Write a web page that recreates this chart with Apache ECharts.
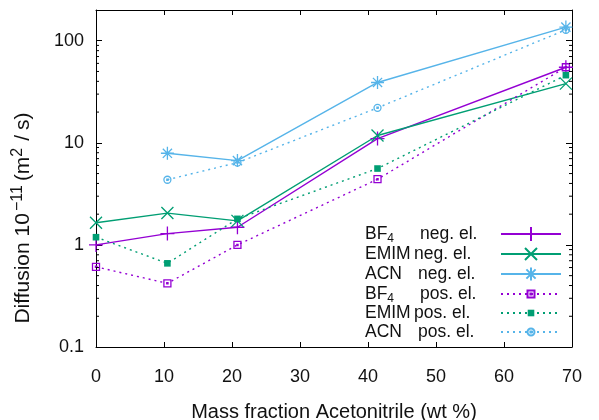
<!DOCTYPE html>
<html>
<head>
<meta charset="utf-8">
<script src="https://cdn.jsdelivr.net/npm/echarts@6/dist/echarts.min.js"></script>
<style>
  html, body { margin: 0; padding: 0; background: #fff; }
  #chart { width: 599px; height: 420px; }
</style>
</head>
<body>
<div id="chart"></div>
<script>
// Mass fraction of acetonitrile (wt %) for each sample
const massFraction = [0, 10.5, 20.8, 41.4, 69.1];

// Diffusion coefficients, 10^-11 m^2/s (null = not measured)
const bf4Neg  = [1.0, 1.29, 1.49, 11.0, 55];
const emimNeg = [1.65, 2.05, 1.72, 11.8, 38];
const acnNeg  = [null, 7.9, 6.7, 39, 136];
const bf4Pos  = [0.61, 0.42, 1.0, 4.4, 55];
const emimPos = [1.19, 0.66, 1.8, 5.6, 46];
const acnPos  = [null, 4.35, 6.4, 22, 128];

// Axis ticks
const xTicks = [0, 10, 20, 30, 40, 50, 60, 70];
const yMajorTicks = [0.1, 1, 10, 100];
const yMinorTicks = [0.2, 0.3, 0.4, 0.5, 0.6, 0.7, 0.8, 0.9,
                     2, 3, 4, 5, 6, 7, 8, 9,
                     20, 30, 40, 50, 60, 70, 80, 90];

const FONT = '"Liberation Sans", Arial, sans-serif';
const INK = '#111';
const C_BF4 = '#9400d3', C_EMIM = '#009e73', C_ACN = '#56b4e9';

// Symbols are drawn inside a 20x20 box (the two leading moves fix the box),
// so one symbolSize gives each glyph its own visible size.
const BOX = 'path://M0,0M20,20';
const SYM_PLUS  = BOX + 'M10,3V17M3,10H17';
const SYM_CROSS = BOX + 'M4,4L16,16M16,4L4,16';
const SYM_STAR  = BOX + 'M10,3.5V16.5M3.5,10H16.5M5.4,5.4L14.6,14.6M14.6,5.4L5.4,14.6';
const SYM_OBOX  = BOX + 'M6.5,6.5H13.5V13.5H6.5Z M9.4,9.4H10.6V10.6H9.4Z';
const SYM_FBOX  = BOX + 'M6.7,6.7H13.3V13.3H6.7Z';
const SYM_CIRC  = BOX + 'M6.5,10A3.5,3.5 0 1 1 13.5,10A3.5,3.5 0 1 1 6.5,10Z M9.4,9.4H10.6V10.6H9.4Z';

function pairs(ys) {
  const out = [];
  ys.forEach((v, i) => { if (v != null) out.push([massFraction[i], v]); });
  return out;
}

const seriesDefs = [
  { name: 'BF4 neg',  label: ['BF', '4', 'neg. el.'], col: 55, ys: bf4Neg,  color: C_BF4,  sym: SYM_PLUS,  filled: false, dotted: false },
  { name: 'EMIM neg', label: ['EMIM', '', 'neg. el.'], col: 49, ys: emimNeg, color: C_EMIM, sym: SYM_CROSS, filled: false, dotted: false },
  { name: 'ACN neg',  label: ['ACN', '', 'neg. el.'], col: 53, ys: acnNeg,  color: C_ACN,  sym: SYM_STAR,  filled: false, dotted: false },
  { name: 'BF4 pos',  label: ['BF', '4', 'pos. el.'], col: 55, ys: bf4Pos,  color: C_BF4,  sym: SYM_OBOX,  filled: false, dotted: true },
  { name: 'EMIM pos', label: ['EMIM', '', 'pos. el.'], col: 49, ys: emimPos, color: C_EMIM, sym: SYM_FBOX,  filled: true,  dotted: true },
  { name: 'ACN pos',  label: ['ACN', '', 'pos. el.'], col: 53, ys: acnPos,  color: C_ACN,  sym: SYM_CIRC,  filled: false, dotted: true }
];

const lineSeries = seriesDefs.map(d => ({
  name: d.name,
  type: 'line',
  data: pairs(d.ys),
  symbol: d.sym,
  symbolSize: 20,
  showAllSymbol: true,
  clip: false,
  z: 3,
  lineStyle: { color: d.color, width: 1.4, type: d.dotted ? [2, 4] : 'solid' },
  itemStyle: d.filled
    ? { color: d.color, borderWidth: 0 }
    : { color: 'rgba(0,0,0,0)', borderColor: d.color, borderWidth: 1.3 },
  emphasis: { disabled: true },
  animation: false
}));

// Minor ticks on both vertical edges of the frame
const minorTickSeries = {
  type: 'custom',
  silent: true,
  clip: false,
  z: 5,
  data: yMinorTicks.map(v => [0, v]),
  renderItem: function (params, api) {
    const v = api.value(1);
    const l = api.coord([0, v]);
    const r = api.coord([70, v]);
    return {
      type: 'group',
      children: [
        { type: 'line', shape: { x1: l[0], y1: l[1], x2: l[0] + 3, y2: l[1] }, style: { stroke: '#000', lineWidth: 1 } },
        { type: 'line', shape: { x1: r[0], y1: r[1], x2: r[0] - 3, y2: r[1] }, style: { stroke: '#000', lineWidth: 1 } }
      ]
    };
  },
  animation: false
};

// Legend text: a name column, then the electrode label
const LEG_FS = 17.5, LEG_SUB = 12, LEG_W = 131;
const measureCtx = document.createElement('canvas').getContext('2d');
function textWidth(s, size) {
  measureCtx.font = size + 'px ' + FONT;
  return measureCtx.measureText(s).width;
}
const legendRich = {
  n: { fontFamily: FONT, fontSize: LEG_FS, color: INK, align: 'left' },
  s: { fontFamily: FONT, fontSize: LEG_SUB, color: INK, align: 'left', padding: [9, 0, 0, 0] }
};
seriesDefs.forEach((d, i) => {
  const nameW = textWidth(d.label[0], LEG_FS) + (d.label[1] ? textWidth(d.label[1], LEG_SUB) : 0);
  legendRich['g' + i] = { fontSize: 4, width: Math.max(1, d.col - nameW), align: 'left' };
  legendRich['r' + i] = { fontFamily: FONT, fontSize: LEG_FS, color: INK, align: 'left', width: LEG_W - d.col };
});

const chart = echarts.init(document.getElementById('chart'), null, { renderer: 'canvas' });

const xAxisCommon = {
  type: 'value', min: 0, max: 70, interval: 10,
  axisLine: { show: true, onZero: false, lineStyle: { color: '#000', width: 1 } },
  axisTick: { show: true, inside: true, length: 5, lineStyle: { color: '#000' } },
  splitLine: { show: false }
};
const yAxisCommon = {
  type: 'log', logBase: 10, min: 0.1, max: 200,
  axisLine: { show: true, onZero: false, lineStyle: { color: '#000', width: 1 } },
  axisTick: { show: true, inside: true, length: 6, lineStyle: { color: '#000' } },
  splitLine: { show: false },
  minorTick: { show: false },
  minorSplitLine: { show: false }
};

chart.setOption({
  animation: false,
  backgroundColor: '#fff',
  textStyle: { fontFamily: FONT },
  grid: { left: 96, right: 27, top: 10, bottom: 73, containLabel: false, outerBoundsMode: 'none' },
  xAxis: [
    Object.assign({}, xAxisCommon, {
      position: 'bottom',
      name: 'Mass fraction Acetonitrile (wt %)',
      nameLocation: 'middle',
      nameGap: 55,
      nameTextStyle: { fontFamily: FONT, fontSize: 20, color: INK },
      axisLabel: { show: true, margin: 21, fontFamily: FONT, fontSize: 18, color: INK,
        formatter: v => (xTicks.indexOf(v) >= 0 ? String(v) : '') }
    }),
    Object.assign({}, xAxisCommon, { position: 'top', axisLabel: { show: false } })
  ],
  yAxis: [
    Object.assign({}, yAxisCommon, {
      position: 'left',
      axisLabel: { show: true, margin: 12, fontFamily: FONT, fontSize: 18, color: INK,
        showMaxLabel: false,
        formatter: v => (yMajorTicks.some(t => Math.abs(t - v) < 1e-9) ? String(v) : '') }
    }),
    Object.assign({}, yAxisCommon, { position: 'right', axisLabel: { show: false } })
  ],
  legend: {
    orient: 'vertical',
    left: 360,
    top: 218,
    align: 'right',
    itemWidth: 60,
    itemHeight: 25,
    itemGap: -2,
    data: seriesDefs.map(d => d.name),
    selectedMode: false,
    textStyle: { fontFamily: FONT, fontSize: LEG_FS, color: INK, width: LEG_W, rich: legendRich },
    formatter: function (name) {
      const i = seriesDefs.findIndex(d => d.name === name);
      const d = seriesDefs[i];
      const lead = '{n|' + d.label[0] + '}' + (d.label[1] ? '{s|' + d.label[1] + '}' : '');
      return lead + '{g' + i + '| }' + '{r' + i + '|' + d.label[2] + '}';
    }
  },
  graphic: [{
    type: 'text',
    x: 23, y: 218,
    rotation: Math.PI / 2,
    style: {
      text: 'Diffusion 10{sup|−11}(m{sup2|2}{sl|/}s)',
      fontFamily: FONT, fontSize: 21, fill: INK,
      align: 'center', verticalAlign: 'middle',
      rich: {
        sup: { fontFamily: FONT, fontSize: 16, fill: INK, padding: [0, 4, 11, 2] },
        sup2: { fontFamily: FONT, fontSize: 16, fill: INK, padding: [0, 4, 11, 0] },
        sl: { fontFamily: FONT, fontSize: 21, fill: INK, padding: [0, 5, 0, 3] }
      }
    }
  }],
  series: lineSeries.concat([minorTickSeries])
});
</script>
</body>
</html>
